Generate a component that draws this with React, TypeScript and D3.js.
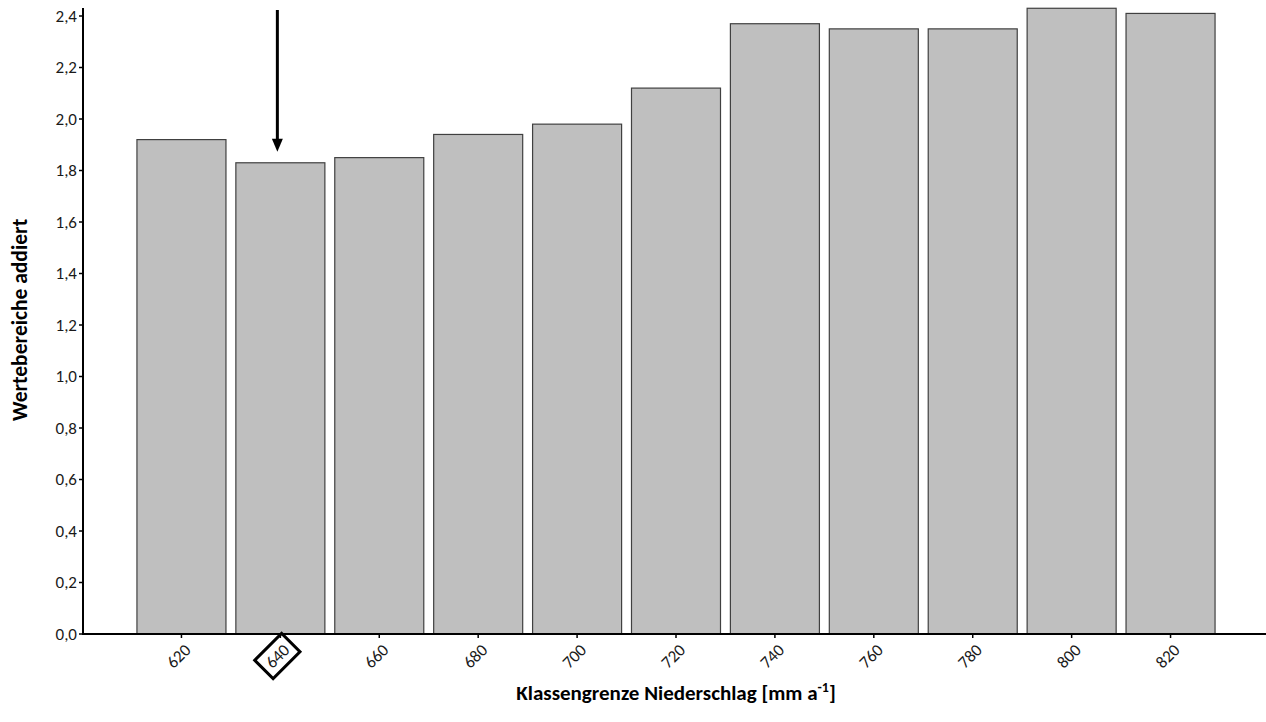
import React from "react";
import * as d3 from "d3";

const categories = ["620", "640", "660", "680", "700", "720", "740", "760", "780", "800", "820"];
const values = [1.92, 1.83, 1.85, 1.94, 1.98, 2.12, 2.37, 2.35, 2.35, 2.43, 2.41];
const yTicks = [0, 0.2, 0.4, 0.6, 0.8, 1.0, 1.2, 1.4, 1.6, 1.8, 2.0, 2.2, 2.4];
const highlighted = "640";

const W = 1266;
const H = 722;
const axisX = 83;
const baseY = 634;
const font = "Carlito, 'Open Sans', 'Liberation Sans', sans-serif";

export default function App() {
  const x = d3.scaleBand<string>().domain(categories).range([132, 1220]).paddingInner(0.1).paddingOuter(0.05);
  const y = d3.scaleLinear().domain([0, 2.4]).range([baseY, 16]);
  const fmt = (v: number) => v.toFixed(1).replace(".", ",");
  const arrowX = (x(highlighted) ?? 0) + x.bandwidth() / 2 - 3;
  const arrowTipY = y(values[categories.indexOf(highlighted)]) - 11;

  return (
    <svg width={W} height={H} style={{ position: "absolute", left: 0, top: 0, background: "#fff" }}>
      {categories.map((c, i) => (
        <rect
          key={c}
          x={x(c)}
          y={y(values[i])}
          width={x.bandwidth()}
          height={baseY - y(values[i])}
          fill="#bfbfbf"
          stroke="#404040"
          strokeWidth={1.2}
        />
      ))}
      {/* y axis */}
      <line x1={axisX} x2={axisX} y1={8} y2={baseY + 1} stroke="#000" strokeWidth={2} />
      {yTicks.map((t) => (
        <g key={t}>
          <line x1={axisX - 4} x2={axisX} y1={y(t)} y2={y(t)} stroke="#000" strokeWidth={1.5} />
          <text x={axisX - 6} y={y(t)} dy="0.35em" textAnchor="end" fontFamily={font} fontSize={17} fill="#1a1a1a">
            {fmt(t)}
          </text>
        </g>
      ))}
      {/* x axis */}
      <line x1={axisX - 1} x2={W} y1={baseY} y2={baseY} stroke="#000" strokeWidth={2} />
      {categories.map((c) => {
        const cx = (x(c) ?? 0) + x.bandwidth() / 2;
        const lx = cx - 3;
        const ly = 656;
        return (
          <g key={c}>
            <line x1={cx} x2={cx} y1={baseY} y2={baseY + 4} stroke="#000" strokeWidth={1.5} />
            <g transform={`translate(${lx},${ly}) rotate(-45)`}>
              {c === highlighted && (
                <rect x={-19} y={-13} width={38} height={26} fill="none" stroke="#000" strokeWidth={3} />
              )}
              <text textAnchor="middle" dy="0.35em" fontFamily={font} fontSize={17} fill="#1a1a1a">
                {c}
              </text>
            </g>
          </g>
        );
      })}
      {/* arrow */}
      <line x1={arrowX} x2={arrowX} y1={10} y2={arrowTipY - 10} stroke="#000" strokeWidth={3} />
      <path
        d={`M${arrowX - 5.5},${arrowTipY - 13} L${arrowX + 5.5},${arrowTipY - 13} L${arrowX},${arrowTipY} Z`}
        fill="#000"
      />
      {/* axis titles */}
      <text
        transform={`translate(27,320) rotate(-90)`}
        textAnchor="middle"
        fontFamily={font}
        fontSize={21.5}
        fontWeight="bold"
        fill="#000"
      >
        Wertebereiche addiert
      </text>
      <text x={676} y={700} textAnchor="middle" fontFamily={font} fontSize={21} fontWeight="bold" fill="#000">
        Klassengrenze Niederschlag [mm a
        <tspan dy={-8} fontSize={14}>-1</tspan>
        <tspan dy={8}>]</tspan>
      </text>
    </svg>
  );
}
